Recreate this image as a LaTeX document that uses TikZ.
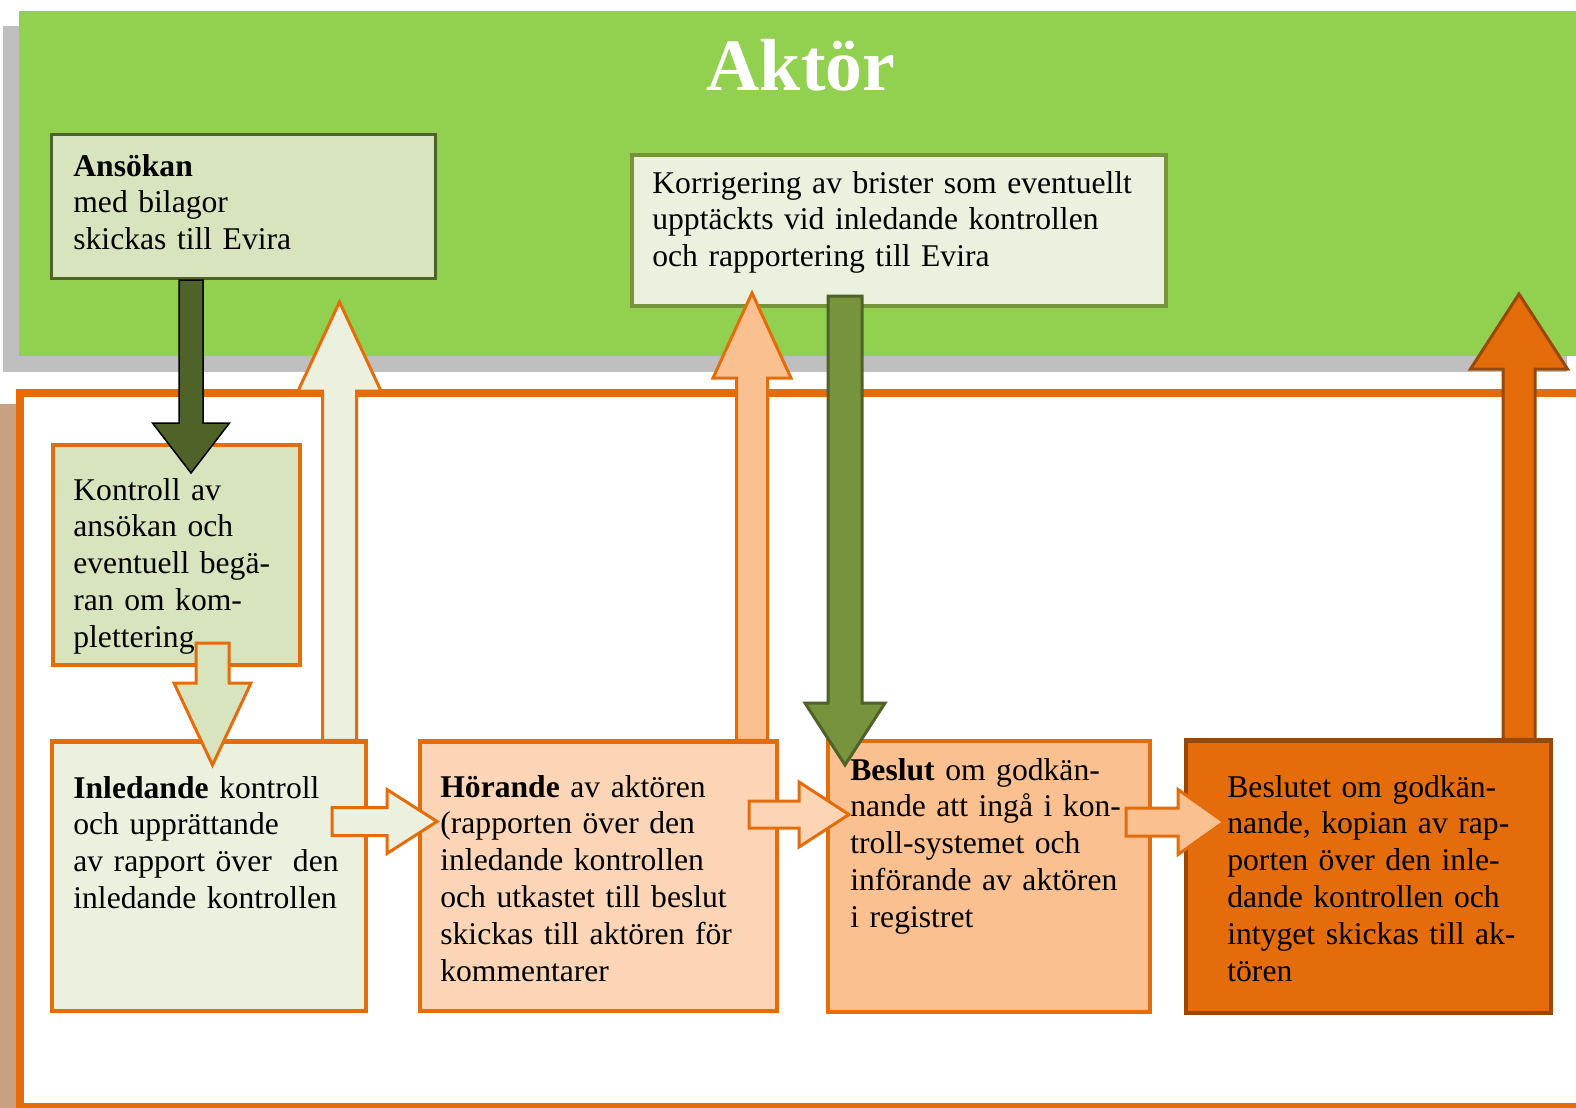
\documentclass[tikz,border=0pt]{standalone}
\usepackage{fontspec}
\setmainfont{Liberation Serif}
\usetikzlibrary{calc,fit}
\definecolor{aktgreen}{HTML}{92D050}
\definecolor{shadowgray}{HTML}{BFBFBF}
\definecolor{framebrown}{HTML}{C9A080}
\definecolor{boxorange}{HTML}{E46C0A}
\definecolor{darkorange}{HTML}{984807}
\definecolor{palegreen}{HTML}{EBF1DE}
\definecolor{sagegreen}{HTML}{D7E4BD}
\definecolor{olivegreen}{HTML}{77933C}
\definecolor{darkolive}{HTML}{4F6228}
\definecolor{palepeach}{HTML}{FBD5B5}
\definecolor{peach}{HTML}{FAC090}
% block arrow: [style]{from}{tip}{shaft half width}{head half width}{head length}
\newcommand{\blockarrow}[6][]{%
  \path ($(#3)!#6!(#2)$) coordinate (hb);
  \draw[#1] ($(#2)!#4!90:(#3)$) -- ($(hb)!#4!90:(#3)$) -- ($(hb)!#5!90:(#3)$) -- (#3)
    -- ($(hb)!#5!-90:(#3)$) -- ($(hb)!#4!-90:(#3)$) -- ($(#2)!#4!-90:(#3)$) -- cycle;}
\begin{document}
\begin{tikzpicture}[x=0.2mm,y=-0.2mm,line join=miter,
  box/.style={draw=boxorange,line width=0.7mm,inner sep=0pt},
  txt/.style={anchor=base west,inner sep=0pt,text width=10cm,align=left,font=\fontsize{18}{21}\selectfont},
  barrow/.style={draw=boxorange,line width=0.6mm}]
\useasboundingbox (0,0) rectangle (1576,1108);
\clip (0,0) rectangle (1576,1108);
\fill[white] (0,0) rectangle (1576,1108);
% Aktör band
\fill[shadowgray] (3,26) rectangle (1567,372);
\fill[aktgreen] (19,11) rectangle (1580,356);
\node[anchor=base,inner sep=0pt,text=white,font=\fontsize{42}{48}\selectfont\bfseries] (akt) at (801,90) {Aktör};
% Evira frame
\fill[framebrown] (0,404) rectangle (19,1108);
\draw[boxorange,line width=1.6mm] (19.5,392.5) rectangle (1620,1107);
% top boxes
\node[box,draw=darkolive,line width=0.6mm,fill=sagegreen,fit={(51.5,134.5) (435.5,278.5)}] (ans) {};
\node[txt] (ansT) at (73,176) {\textbf{Ansökan}\\med bilagor\\skickas till Evira};
\node[box,draw=olivegreen,fill=palegreen,fit={(632,155) (1166,306)}] (kor) {};
\node[txt] (korT) at (652,193) {Korrigering av brister som eventuellt\\upptäckts vid inledande kontrollen\\och rapportering till Evira};
% lower boxes
\node[box,fill=palegreen,fit={(52,742) (366,1011)}] (inl) {};
\node[box,fill=palepeach,fit={(420,742) (777,1011)}] (hor) {};
\node[box,fill=peach,fit={(828,741) (1150,1012)}] (bes) {};
\node[box,draw=darkorange,fill=boxorange,fit={(1186,741) (1551,1013)}] (beu) {};
% arrow ends
\coordinate (a1s) at (191,0 |- ans.south); \coordinate (a1t) at (191,473);
\coordinate (a2s) at (212.5,643);          \coordinate (a2t) at (212.5,765);
\coordinate (a3s) at (339.5,0 |- inl.north); \coordinate (a3t) at (339.5,302);
\coordinate (a4s) at (332,821.5);          \coordinate (a4t) at (437,821.5);
\coordinate (a5s) at (752,0 |- hor.north); \coordinate (a5t) at (752,293);
\coordinate (a6s) at (749,814.5);          \coordinate (a6t) at (849,814.5);
\coordinate (a7s) at (845,296);            \coordinate (a7t) at (845,765);
\coordinate (a8s) at (1126,822);           \coordinate (a8t) at (1224,822);
\coordinate (a9s) at (1519,0 |- beu.north); \coordinate (a9t) at (1519,294);
% up arrows to Aktör
\blockarrow[barrow,fill=palegreen]{a3s}{a3t}{3.4mm}{8.3mm}{17.8mm}
\blockarrow[barrow,fill=peach]{a5s}{a5t}{3.1mm}{7.8mm}{17mm}
\blockarrow[barrow,draw=darkorange,fill=boxorange]{a9s}{a9t}{3.2mm}{9.7mm}{15mm}
\draw[boxorange,line width=0.7mm] (inl.north west) -- (inl.north east);
\draw[boxorange,line width=0.7mm] (hor.north west) -- (hor.north east);
\draw[darkorange,line width=0.7mm] (beu.north west) -- (beu.north east);
\node[box,fill=sagegreen,fit={(53,445) (300,665)}] (kon) {};
% texts
\node[txt] (konT) at (73,500) {Kontroll av\\ansökan och\\eventuell begä-\\ran om kom-\\plettering};
\node[txt] (inlT) at (73,798) {\textbf{Inledande} kontroll\\och upprättande\\av rapport över\ \ den\\inledande kontrollen};
\node[txt] (horT) at (440,797) {\textbf{Hörande} av aktören\\(rapporten över den\\inledande kontrollen\\och utkastet till beslut\\skickas till aktören för\\kommentarer};
\node[txt] (besT) at (850,780) {\textbf{Beslut} om godkän-\\nande att ingå i kon-\\troll-systemet och\\införande av aktören\\i registret};
\node[txt] (beuT) at (1227,797) {Beslutet om godkän-\\nande, kopian av rap-\\porten över den inle-\\dande kontrollen och\\intyget skickas till ak-\\tören};
% down and right arrows
\blockarrow[draw=black,line width=0.3mm,fill=darkolive]{a1s}{a1t}{2.4mm}{7.7mm}{10mm}
\blockarrow[barrow,fill=sagegreen]{a2s}{a2t}{3.3mm}{7.7mm}{16.4mm}
\blockarrow[barrow,draw=darkolive,fill=olivegreen]{a7s}{a7t}{3.4mm}{8mm}{12.4mm}
\blockarrow[barrow,fill=palegreen]{a4s}{a4t}{2.8mm}{6.4mm}{10mm}
\blockarrow[barrow,fill=palepeach]{a6s}{a6t}{2.7mm}{6.5mm}{10mm}
\blockarrow[barrow,fill=peach]{a8s}{a8t}{2.8mm}{6.5mm}{9.2mm}
\end{tikzpicture}
\end{document}
